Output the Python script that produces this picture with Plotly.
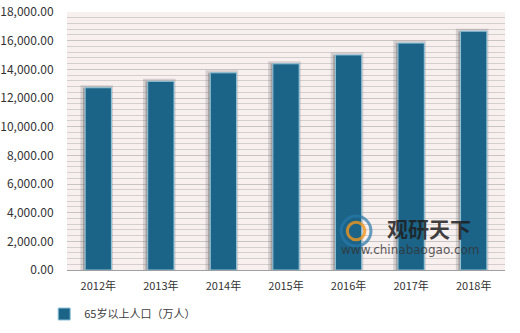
import plotly.graph_objects as go

years = ["2012年", "2013年", "2014年", "2015年", "2016年", "2017年", "2018年"]
pop65 = [12714, 13161, 13755, 14386, 15003, 15831, 16658]
series_name = "65岁以上人口（万人）"
y_ticks = [0, 2000, 4000, 6000, 8000, 10000, 12000, 14000, 16000, 18000]
y_tick_labels = [f"{v:,.2f}" for v in y_ticks]

font_family = "Noto Sans CJK SC, DejaVu Sans, sans-serif"

fig = go.Figure()
# soft shadow behind bars
fig.add_trace(go.Bar(
    x=years, y=pop65, width=0.44, offset=-0.245, showlegend=False, hoverinfo="skip",
    marker=dict(color="rgba(90,90,90,0.40)", line=dict(color="rgba(110,110,110,0.25)", width=5)),
))
fig.add_trace(go.Bar(
    x=years, y=pop65, width=0.42, name=series_name,
    marker=dict(color="#1B6488", line=dict(color="#8FC3DA", width=1)),
))

fig.update_layout(
    width=520, height=333,
    margin=dict(l=67, r=15, t=12, b=63, autoexpand=False),
    paper_bgcolor="white",
    plot_bgcolor="#F8EFEF",
    barmode="overlay",
    font=dict(family=font_family, size=11, color="#333333"),
    showlegend=True,
    legend=dict(orientation="h", xref="container", yref="container",
                x=0.085, xanchor="left", y=0.057, yanchor="middle",
                font=dict(size=11, color="#404040"), itemwidth=30, tracegroupgap=0),
    xaxis=dict(showgrid=False, showline=True, linecolor="#A0A0A0", linewidth=1,
               ticks="outside", ticklen=6, tickcolor="rgba(0,0,0,0)",
               tickfont=dict(size=11, color="#333333"), automargin=False),
    yaxis=dict(range=[0, 18000], tickvals=y_ticks, ticktext=y_tick_labels,
               showgrid=True, gridcolor="#C8C4C4", gridwidth=1,
               minor=dict(dtick=400, showgrid=True, gridcolor="#D4CFCF", gridwidth=1),
               zeroline=False, showline=False,
               ticks="outside", ticklen=10, tickcolor="rgba(0,0,0,0)",
               tickfont=dict(size=12, color="#333333"), automargin=False),
)

fig.add_shape(type="circle", xref="paper", yref="paper", x0=0.626, x1=0.694, y0=0.093, y1=0.209,
              line=dict(color="rgba(40,120,170,0.7)", width=3), fillcolor="rgba(0,0,0,0)")
fig.add_shape(type="circle", xref="paper", yref="paper", x0=0.640, x1=0.680, y0=0.117, y1=0.185,
              line=dict(color="rgba(240,150,30,0.8)", width=3), fillcolor="rgba(0,0,0,0)")
fig.add_annotation(text="<b>观研天下</b>", xref="paper", yref="paper", x=0.725, y=0.163,
                   xanchor="left", yanchor="middle", showarrow=False,
                   font=dict(size=21, color="rgba(30,30,30,0.85)", family=font_family))
fig.add_annotation(text="www.chinabaogao.com", xref="paper", yref="paper", x=0.62, y=0.078,
                   xanchor="left", yanchor="middle", showarrow=False,
                   font=dict(size=12, color="rgba(50,50,50,0.8)", family="DejaVu Sans, sans-serif"))

fig.write_html("out.html")
